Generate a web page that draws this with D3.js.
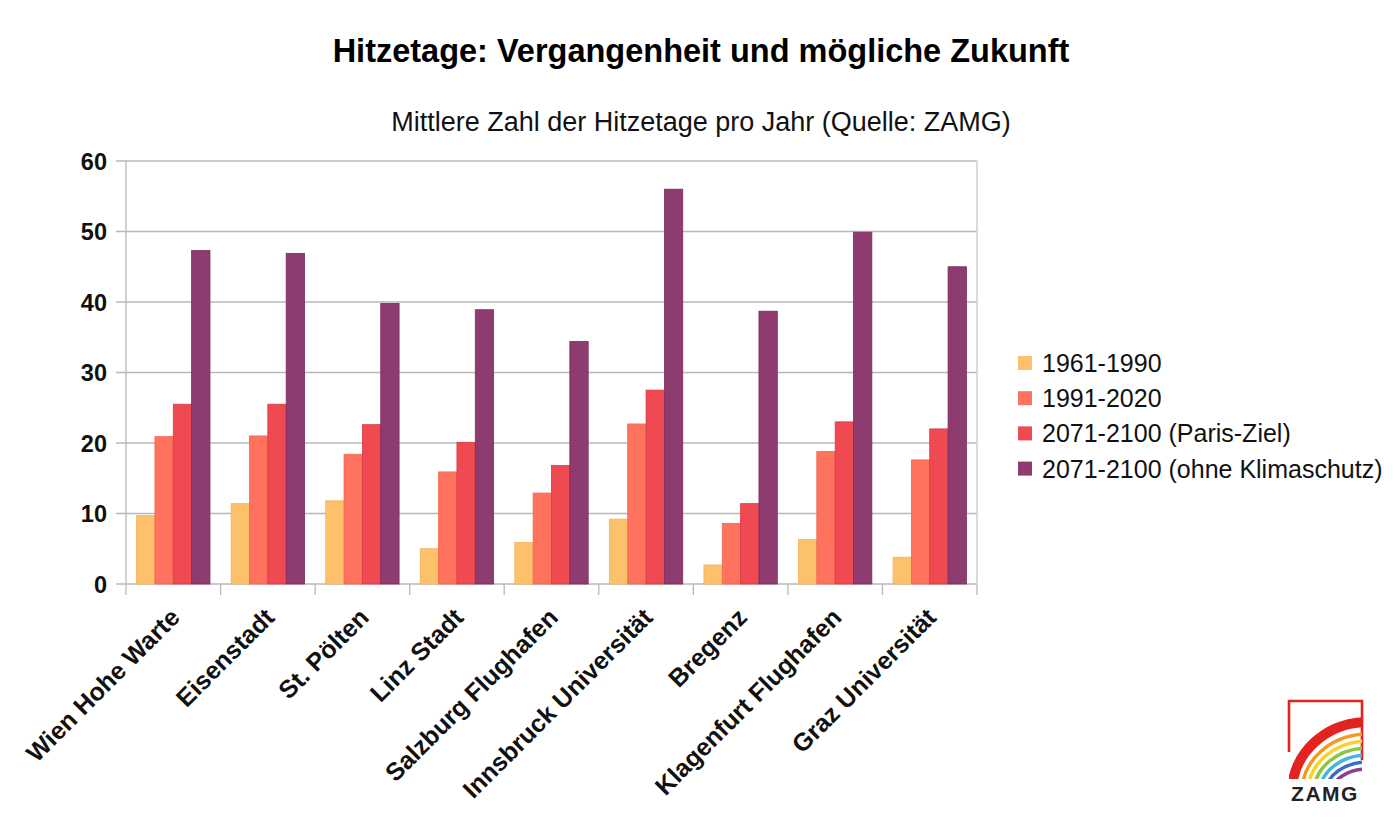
<!DOCTYPE html>
<html>
<head>
<meta charset="utf-8">
<script src="https://cdn.jsdelivr.net/npm/d3@7/dist/d3.min.js"></script>
<style>
  html, body { margin: 0; padding: 0; background: #ffffff; }
  svg { display: block; font-family: "Liberation Sans", Arial, sans-serif; }
</style>
</head>
<body>
<svg id="chart" width="1400" height="823"></svg>
<script>
// ---- data ----
const stations = ["Wien Hohe Warte", "Eisenstadt", "St. Pölten", "Linz Stadt", "Salzburg Flughafen",
                  "Innsbruck Universität", "Bregenz", "Klagenfurt Flughafen", "Graz Universität"];
const seriesNames = ["1961-1990", "1991-2020", "2071-2100 (Paris-Ziel)", "2071-2100 (ohne Klimaschutz)"];
const v1961_1990 = [9.7, 11.4, 11.8, 5.0, 5.9, 9.2, 2.7, 6.3, 3.8];
const v1991_2020 = [20.9, 21.0, 18.4, 15.9, 12.9, 22.7, 8.6, 18.8, 17.6];
const vParis     = [25.5, 25.5, 22.6, 20.1, 16.8, 27.5, 11.4, 23.0, 22.0];
const vOhne      = [47.3, 46.9, 39.8, 38.9, 34.4, 56.0, 38.7, 49.9, 45.0];
const yTicks = [0, 10, 20, 30, 40, 50, 60];
const colors = ["#fdc16b", "#ff725e", "#ef4a51", "#8e3b6f"];
const strokes = ["#f5b45a", "#f4654f", "#d93a42", "#7a2d5e"];

const seriesValues = [v1961_1990, v1991_2020, vParis, vOhne];

const svg = d3.select("#chart");
const pL = 126, pR = 977, pT = 161, pB = 584;

const x = d3.scaleBand().domain(stations).range([pL, pR]).paddingInner(0).paddingOuter(0);
const bw = x.bandwidth();
const xi = d3.scaleBand().domain(seriesNames).range([bw * 0.112, bw * 0.888]).padding(0);
const y = d3.scaleLinear().domain([0, 60]).range([pB, pT]);

// title
svg.append("text").attr("x", 701).attr("y", 62).attr("text-anchor", "middle")
  .attr("font-size", 32.5).attr("font-weight", "bold").attr("fill", "#000")
  .text("Hitzetage: Vergangenheit und mögliche Zukunft");
svg.append("text").attr("x", 701).attr("y", 131).attr("text-anchor", "middle")
  .attr("font-size", 27).attr("fill", "#111")
  .text("Mittlere Zahl der Hitzetage pro Jahr (Quelle: ZAMG)");

// gridlines
svg.append("g").selectAll("line").data(yTicks).join("line")
  .attr("x1", pL - 10).attr("x2", pR)
  .attr("y1", d => y(d)).attr("y2", d => y(d))
  .attr("stroke", "#b8b8b8").attr("stroke-width", 1.3);

// right border
svg.append("line").attr("x1", pR).attr("x2", pR).attr("y1", pT).attr("y2", pB)
  .attr("stroke", "#c8c8c8").attr("stroke-width", 1.3);

// bars
const groups = svg.append("g").selectAll("g").data(stations).join("g")
  .attr("transform", d => `translate(${x(d)},0)`);
groups.selectAll("rect").data((d, i) => seriesNames.map((s, k) => ({ s, k, v: seriesValues[k][i] })))
  .join("rect")
  .attr("x", d => xi(d.s))
  .attr("width", xi.bandwidth())
  .attr("y", d => y(d.v))
  .attr("height", d => y(0) - y(d.v))
  .attr("fill", d => colors[d.k])
  .attr("stroke", d => strokes[d.k])
  .attr("stroke-width", 0.8);

// y axis
const yAxis = d3.axisLeft(y).tickValues(yTicks).tickSize(0).tickPadding(0);
const ya = svg.append("g").attr("transform", `translate(${pL},0)`).call(yAxis);
ya.select(".domain").remove();
ya.selectAll("text").attr("x", -19).attr("dy", "0.36em")
  .attr("font-size", 23.5).attr("font-weight", "bold").attr("fill", "#111")
  .attr("font-family", "Liberation Sans, Arial, sans-serif");
svg.append("line").attr("x1", pL).attr("x2", pL).attr("y1", pT).attr("y2", pB + 11)
  .attr("stroke", "#b8b8b8").attr("stroke-width", 1.3);

// x axis ticks at band boundaries
const boundaries = stations.map(s => x(s)).concat([pR]);
svg.append("g").selectAll("line").data(boundaries.slice(1)).join("line")
  .attr("x1", d => d).attr("x2", d => d).attr("y1", pB).attr("y2", pB + 11)
  .attr("stroke", "#b8b8b8").attr("stroke-width", 1.3);

// x labels
svg.append("g").selectAll("text").data(stations).join("text")
  .attr("transform", d => `translate(${x(d) + bw / 2 + 8},${619}) rotate(-45)`)
  .attr("text-anchor", "end")
  .attr("font-size", 25).attr("font-weight", "bold").attr("fill", "#111")
  .text(d => d);

// legend
const lg = svg.append("g").selectAll("g").data(seriesNames).join("g")
  .attr("transform", (d, i) => `translate(1018,${363 + i * 35.2})`);
lg.append("rect").attr("x", 0).attr("y", -7).attr("width", 14).attr("height", 14)
  .attr("fill", (d, i) => colors[i]);
lg.append("text").attr("x", 24).attr("y", 0).attr("dy", "0.36em")
  .attr("font-size", 25).attr("fill", "#111").text(d => d);

// ZAMG logo
const logo = svg.append("g");
const clip = svg.append("defs").append("clipPath").attr("id", "lclip");
clip.append("rect").attr("x", 1289).attr("y", 701).attr("width", 73).attr("height", 78);
logo.append("path").attr("d", "M1289,752 L1289,701 L1362,701 L1362,760")
  .attr("fill", "none").attr("stroke", "#e3231f").attr("stroke-width", 2.6);
const arcs = [
  { c: "#e3231f", rx: 76, ry: 70, w: 10 },
  { c: "#f39a1c", rx: 66, ry: 58, w: 3.5 },
  { c: "#fbd22b", rx: 60, ry: 51, w: 3.5 },
  { c: "#8dc63f", rx: 54, ry: 44, w: 3.5 },
  { c: "#3fb6e6", rx: 48, ry: 37, w: 3.5 },
  { c: "#3a6fc4", rx: 42, ry: 30, w: 3.5 },
  { c: "#8d3d96", rx: 36, ry: 23, w: 3.5 }
];
const la = logo.append("g").attr("clip-path", "url(#lclip)");
la.selectAll("ellipse").data(arcs).join("ellipse")
  .attr("cx", 1368).attr("cy", 792)
  .attr("rx", d => d.rx).attr("ry", d => d.ry)
  .attr("fill", "none").attr("stroke", d => d.c).attr("stroke-width", d => d.w);
logo.append("text").attr("x", 1325).attr("y", 801).attr("text-anchor", "middle")
  .attr("font-size", 21).attr("font-weight", "bold").attr("fill", "#222")
  .attr("letter-spacing", 1.5).text("ZAMG");
</script>
</body>
</html>
